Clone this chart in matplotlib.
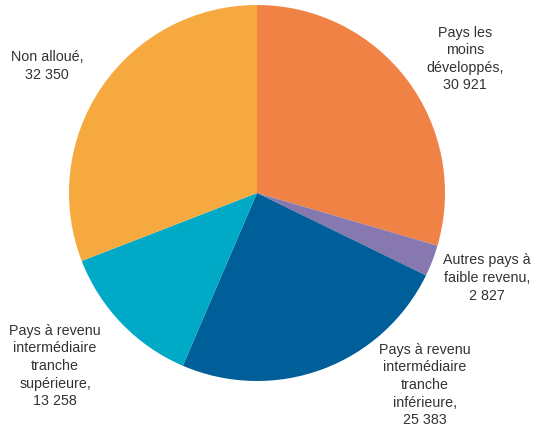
import matplotlib
matplotlib.use('Agg')
import matplotlib.pyplot as plt

categories = ['Pays les\nmoins\ndéveloppés,', 'Autres pays à\nfaible revenu,',
              'Pays à revenu\nintermédiaire\ntranche\ninférieure,',
              'Pays à revenu\nintermédiaire\ntranche\nsupérieure,', 'Non alloué,']
values = [30921, 2827, 25383, 13258, 32350]
value_labels = ['30 921', '2 827', '25 383', '13 258', '32 350']
colors = ['#F08246', '#8878B0', '#005F98', '#00AAC6', '#F6A93F']

# label centres in pixel coords (from top-left)
label_pos = [(465, 59), (487, 278), (425, 385), (55, 366), (47, 66)]

W, H = 533, 436
fig = plt.figure(figsize=(W / 100, H / 100), dpi=100)
ax = fig.add_axes([0, 0, 1, 1])

ax.pie(values, colors=colors, startangle=90, counterclock=False,
       center=(257, H - 193), radius=188,
       wedgeprops=dict(linewidth=0))

fonts = ['Liberation Sans Narrow', 'Liberation Sans', 'DejaVu Sans']
for cat, val, (x, y) in zip(categories, value_labels, label_pos):
    ax.text(x, H - y, cat + '\n' + val, ha='center', va='center',
            fontsize=10.3, color='#333333', family=fonts, linespacing=1.33)

ax.set_xlim(0, W)
ax.set_ylim(0, H)
ax.set_aspect('equal')
ax.axis('off')

fig.savefig('out.png', dpi=100)
